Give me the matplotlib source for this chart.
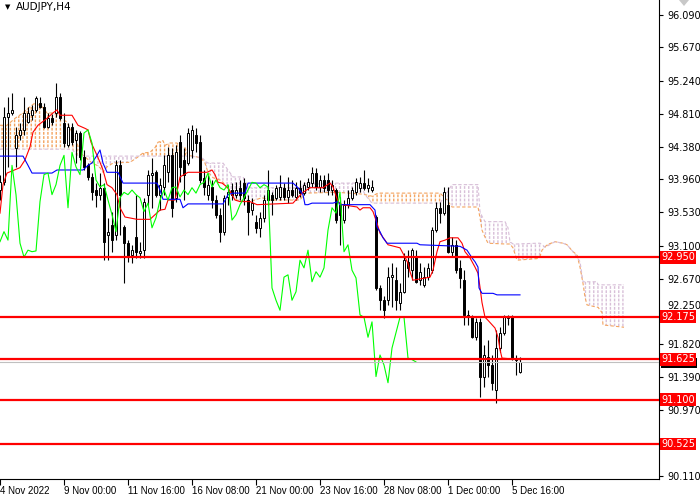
import numpy as np
import matplotlib
matplotlib.use("Agg")
import matplotlib.pyplot as plt
from matplotlib.patches import Polygon, Rectangle
from matplotlib.transforms import ScaledTranslation

plt.rcParams['font.family'] = ['DejaVu Sans']
plt.rcParams['hatch.linewidth'] = 1.0

# AUDJPY H4 candles (bar 0 = 4 Nov 2022)
open_ = [93.82, 93.92, 94.77, 94.82, 94.37, 94.53, 94.60, 94.70, 94.79, 94.86,
         94.95, 94.90, 94.64, 94.75, 94.82, 95.03, 94.69, 94.40, 94.64, 94.47,
         94.56, 94.25, 94.14, 93.99, 93.82, 93.76, 93.85, 93.24, 93.37, 93.24,
         94.14, 93.34, 93.13, 92.98, 93.21, 93.00, 93.04, 93.76, 94.02, 94.05,
         93.76, 93.86, 94.05, 94.27, 93.72, 94.44, 94.21, 94.17, 94.34, 94.53,
         94.44, 93.98, 93.76, 93.86, 93.69, 93.50, 93.28, 93.73, 93.82, 93.76,
         93.85, 93.91, 93.69, 93.56, 93.41, 93.33, 93.46, 93.69, 93.76, 93.72,
         93.73, 93.85, 93.73, 93.82, 93.73, 93.85, 93.78, 93.86, 93.91, 94.04,
         93.86, 93.95, 93.95, 93.82, 93.82, 93.63, 93.43, 93.63, 93.72, 93.79,
         93.85, 93.91, 93.85, 93.82, 93.47, 92.55, 92.39, 92.39, 92.69, 92.65,
         92.36, 92.50, 92.89, 92.78, 92.95, 92.65, 92.59, 92.69, 92.78, 93.30,
         93.59, 93.52, 93.63, 93.02, 93.11, 92.81, 92.65, 92.20, 92.17, 91.91,
         92.11, 91.40, 91.65, 91.55, 91.23, 91.77, 91.97, 92.16, 92.17, 91.64,
         91.46]
high = [94.02, 94.90, 95.03, 95.08, 94.64, 94.69, 95.03, 94.90, 94.92, 95.04,
        95.03, 94.95, 94.82, 94.81, 95.21, 95.08, 94.82, 94.69, 94.69, 94.60,
        94.59, 94.34, 94.17, 94.04, 93.91, 94.04, 93.91, 93.46, 93.54, 94.21,
        94.21, 93.37, 93.17, 93.11, 93.76, 93.15, 93.72, 94.08, 94.24, 94.08,
        93.98, 94.27, 94.38, 94.37, 94.40, 94.53, 94.37, 94.62, 94.66, 94.62,
        94.53, 94.08, 94.02, 93.95, 93.76, 93.59, 93.76, 93.89, 93.91, 93.92,
        93.95, 93.98, 93.76, 93.72, 93.50, 93.54, 93.76, 94.08, 93.79, 93.89,
        94.02, 93.91, 93.99, 93.95, 93.92, 93.95, 93.92, 93.98, 94.12, 94.11,
        94.02, 94.02, 94.04, 93.95, 93.85, 93.73, 93.69, 93.82, 93.86, 93.98,
        93.99, 94.08, 93.98, 93.95, 93.50, 92.59, 92.45, 92.82, 92.87, 92.82,
        92.61, 93.00, 93.04, 93.07, 93.04, 92.87, 92.82, 92.87, 93.34, 93.67,
        93.67, 93.86, 93.86, 93.21, 93.17, 92.91, 92.78, 92.26, 92.20, 92.16,
        92.16, 91.81, 91.88, 91.68, 92.00, 92.04, 92.20, 92.20, 92.20, 91.68,
        91.65]
low = [93.69, 93.89, 94.12, 94.79, 94.12, 94.47, 94.53, 94.69, 94.73, 94.83,
       94.88, 94.62, 94.62, 94.66, 94.77, 94.73, 94.38, 94.38, 94.40, 94.17,
       94.21, 94.08, 93.95, 93.69, 93.60, 93.69, 92.91, 92.91, 93.02, 93.17,
       93.24, 92.61, 92.89, 92.87, 92.94, 92.94, 92.94, 93.63, 93.59, 93.73,
       93.56, 93.76, 93.92, 93.47, 93.67, 93.92, 93.69, 94.14, 94.24, 94.31,
       93.91, 93.76, 93.69, 93.59, 93.46, 93.15, 93.24, 93.63, 93.69, 93.72,
       93.69, 93.63, 93.24, 93.50, 93.26, 93.21, 93.41, 93.63, 93.50, 93.69,
       93.69, 93.69, 93.65, 93.73, 93.69, 93.73, 93.76, 93.82, 93.86, 93.82,
       93.79, 93.79, 93.76, 93.76, 93.39, 93.11, 93.39, 93.59, 93.69, 93.76,
       93.79, 93.82, 93.79, 93.79, 92.52, 92.26, 92.16, 92.33, 92.30, 92.26,
       92.26, 92.48, 92.69, 92.65, 92.61, 92.59, 92.56, 92.65, 92.74, 93.28,
       93.39, 93.50, 93.00, 92.95, 92.74, 92.55, 92.07, 92.07, 91.90, 91.88,
       91.14, 91.27, 91.40, 91.23, 91.06, 91.72, 91.94, 92.07, 91.62, 91.42,
       91.45]
close = [93.92, 94.77, 94.82, 94.86, 94.53, 94.60, 94.82, 94.82, 94.86, 95.01,
         94.90, 94.64, 94.75, 94.70, 95.03, 94.75, 94.43, 94.64, 94.44, 94.56,
         94.25, 94.12, 93.99, 93.79, 93.76, 93.85, 93.15, 93.28, 93.17, 94.14,
         93.76, 93.13, 92.95, 93.04, 93.02, 93.03, 93.67, 94.02, 94.04, 93.76,
         93.89, 94.14, 94.27, 93.59, 94.31, 94.12, 94.02, 94.56, 94.60, 94.43,
         93.95, 93.86, 93.89, 93.69, 93.50, 93.28, 93.72, 93.79, 93.76, 93.82,
         93.76, 93.72, 93.54, 93.65, 93.33, 93.46, 93.69, 93.82, 93.69, 93.85,
         93.86, 93.73, 93.82, 93.76, 93.85, 93.78, 93.89, 93.92, 94.04, 93.86,
         93.95, 93.85, 93.82, 93.89, 93.43, 93.50, 93.63, 93.72, 93.82, 93.92,
         93.91, 93.85, 93.89, 93.86, 92.55, 92.39, 92.26, 92.69, 92.72, 92.39,
         92.50, 92.91, 92.81, 93.04, 92.63, 92.76, 92.69, 92.81, 93.30, 93.59,
         93.52, 93.79, 93.02, 93.11, 92.78, 92.68, 92.20, 92.17, 91.91, 92.11,
         91.40, 91.68, 91.55, 91.32, 91.77, 91.97, 92.17, 92.17, 91.64, 91.62,
         91.59]

# Ichimoku lines, vertices (x in bars)
tenkan_x = [0, 0.75, 1.75, 5, 6.25, 7.5, 8.25, 9.5, 11.75, 13.25,
            14.25, 15, 18, 19.5, 21.25, 22, 22.75, 24.25, 25, 25.75,
            26.75, 28, 29.25, 30, 31.25, 34.25, 37.5, 38.75, 40, 41.25,
            42, 43.75, 44.5, 45, 47, 51.75, 53, 53.75, 54.5, 55.5,
            57, 58, 58.75, 60, 62.5, 64.25, 73.25, 75.5, 77.5, 80.75,
            82.5, 83.25, 84.5, 85.5, 89.25, 90, 90.75, 92.5, 93.25, 94.25,
            95, 96.25, 97, 100, 101.25, 102, 102.5, 103.25, 107.5, 108.25,
            109.25, 110, 111.25, 112.5, 114.5, 115.5, 116.25, 117.5, 118.75, 119.5,
            120, 120.5, 121.25, 122, 123.75, 124.5, 125, 125.5, 130]
tenkan_y = [93.52, 93.89, 94.04, 94.11, 94.21, 94.38, 94.57, 94.66, 94.75, 94.82,
            94.86, 94.79, 94.79, 94.66, 94.62, 94.60, 94.44, 94.27, 94.18, 94.08,
            93.89, 93.85, 93.76, 93.59, 93.47, 93.44, 93.44, 93.50, 93.56, 93.57,
            93.69, 93.69, 93.86, 93.99, 94.05, 94.05, 94.08, 94.02, 93.92, 93.91,
            93.85, 93.76, 93.69, 93.67, 93.67, 93.63, 93.65, 93.78, 93.85, 93.85,
            93.91, 93.86, 93.67, 93.63, 93.60, 93.56, 93.59, 93.59, 93.54, 93.39,
            93.26, 93.17, 93.11, 93.07, 92.95, 92.87, 92.76, 92.65, 92.69, 92.78,
            93.02, 93.15, 93.17, 93.20, 93.20, 93.13, 93.02, 92.94, 92.82, 92.74,
            92.56, 92.36, 92.17, 92.13, 92.03, 91.91, 91.75, 91.64, 91.62]

kijun_x = [0, 5.75, 7, 8, 13, 14.25, 20.75, 22, 23, 24.25,
           25, 25.75, 26.75, 29.5, 30.75, 39.25, 40, 40.75, 45, 45.75,
           47, 55.75, 57, 58.25, 61.25, 62, 73.25, 74.5, 75.75, 76.25,
           77, 78, 83.25, 84.5, 85, 92.5, 93.75, 94.25, 95, 95.75,
           96.75, 104.25, 105, 115, 116.75, 118, 118.75, 119.5, 119.75, 120.5,
           123.25, 124.25, 130]
kijun_y = [94.26, 94.26, 94.14, 94.04, 94.04, 94.08, 94.08, 94.14, 94.17, 94.27,
           94.34, 94.17, 94.05, 94.05, 93.91, 93.91, 93.82, 93.70, 93.70, 93.59,
           93.64, 93.64, 93.76, 93.78, 93.78, 93.91, 93.91, 93.85, 93.76, 93.63,
           93.63, 93.65, 93.65, 93.67, 93.63, 93.63, 93.56, 93.34, 93.28, 93.20,
           93.13, 93.13, 93.11, 93.09, 93.04, 92.94, 92.89, 92.82, 92.55, 92.48,
           92.48, 92.46, 92.46]

span_x = [0, 1.75, 3.75, 5.75, 7, 8.75, 10.5, 11.75, 13.25, 14.5,
          16.75, 18, 19.25, 20, 20.75, 21.25, 23, 24.25, 25, 25.75,
          26.75, 28.25, 32.5, 34.25, 35.75, 37.5, 38.75, 39.5, 40.75, 41.25,
          42.5, 44.25, 45, 46.25, 47, 49.25, 50.5, 51.25, 52, 53.25,
          55, 55.75, 57, 58.25, 59.25, 60.75, 61.75, 62.5, 65.5, 67.5,
          75, 76.25, 84.25, 90, 91.25, 93, 94.5, 110, 111.75, 113,
          119.5, 120, 120.5, 121.25, 122, 126.25, 127, 127.5, 128.25, 129.25,
          134.25, 135, 135.5, 136.25, 136.75, 138.75, 140.75, 141.75, 143.25, 144.25,
          145, 145.75, 146.25, 146.75, 149.25, 149.5, 150.5, 150.75, 156]
span_a = [94.66, 94.66, 94.75, 94.82, 94.88, 94.95, 94.90, 94.82, 94.82, 94.79,
          94.70, 94.57, 94.43, 94.31, 94.27, 94.25, 94.17, 94.14, 94.11, 94.05,
          94.12, 94.17, 94.18, 94.24, 94.30, 94.31, 94.37, 94.44, 94.46, 94.40,
          94.43, 94.43, 94.38, 94.37, 94.27, 94.25, 94.22, 94.17, 94.05, 93.98,
          93.95, 93.92, 93.83, 93.73, 93.69, 93.68, 93.68, 93.67, 93.72, 93.69,
          93.69, 93.78, 93.79, 93.77, 93.76, 93.74, 93.78, 93.78, 93.69, 93.60,
          93.60, 93.46, 93.30, 93.21, 93.13, 93.12, 93.12, 93.12, 93.07, 92.91,
          92.93, 92.96, 93.04, 93.08, 93.11, 93.15, 93.13, 93.11, 93.02, 92.98,
          92.82, 92.61, 92.43, 92.33, 92.30, 92.30, 92.23, 92.07, 92.04]
span_b = [94.35, 94.35, 94.35, 94.35, 94.35, 94.35, 94.35, 94.35, 94.35, 94.35,
          94.35, 94.35, 94.27, 94.27, 94.26, 94.26, 94.26, 94.26, 94.26, 94.26,
          94.26, 94.26, 94.26, 94.26, 94.26, 94.26, 94.26, 94.26, 94.26, 94.26,
          94.26, 94.26, 94.26, 94.26, 94.26, 94.25, 94.24, 94.20, 94.17, 94.17,
          94.17, 94.17, 94.08, 93.99, 93.99, 93.99, 93.89, 93.85, 93.85, 93.85,
          93.85, 93.91, 93.91, 93.91, 93.76, 93.65, 93.65, 93.65, 93.79, 93.89,
          93.89, 93.54, 93.48, 93.41, 93.41, 93.41, 93.33, 93.15, 93.12, 93.12,
          93.13, 93.13, 93.11, 93.08, 93.09, 93.15, 93.13, 93.11, 93.02, 92.95,
          92.89, 92.63, 92.63, 92.63, 92.63, 92.59, 92.59, 92.59, 92.59]

levels = [92.950, 92.175, 91.625, 91.100, 90.525]
price_ticks = [96.090, 95.670, 95.240, 94.810, 94.380, 93.960, 93.530, 93.100,
               92.670, 92.250, 91.820, 91.390, 90.970, 90.540, 90.110]
# 90.540 sits under the 90.525 box on the reference; 92.250 is drawn apart
price_labels = ['96.090', '95.670', '95.240', '94.810', '94.380', '93.960',
                '93.530', '93.100', '92.670', '', '91.820', '91.390',
                '90.970', '', '90.110']
time_ticks = [0, 16, 32, 48, 64, 80, 96, 112, 128]
time_labels = ['4 Nov 2022', '9 Nov 00:00', '11 Nov 16:00', '16 Nov 08:00',
               '21 Nov 00:00', '23 Nov 16:00', '28 Nov 08:00', '1 Dec 00:00',
               '5 Dec 16:00']

o = np.array(open_)
h = np.array(high)
l = np.array(low)
c = np.array(close)
bars = np.arange(len(c))
sx = np.array(span_x)
sa = np.array(span_a)
sb = np.array(span_b)

fig = plt.figure(figsize=(7, 5), dpi=100)
ax = fig.add_axes([0, 21 / 500, 659 / 700, 479 / 500])

# cloud: dotted vertical hatch, sandy when A above B, thistle otherwise
ax.fill_between(sx, sa, sb, where=sa >= sb, interpolate=True, facecolor='none',
                edgecolor='#F4A460', hatch='||||', linewidth=0, zorder=1)
ax.fill_between(sx, sa, sb, where=sb > sa, interpolate=True, facecolor='none',
                edgecolor='#D8BFD8', hatch='||||', linewidth=0, zorder=1)
ax.fill_between(sx, sa, sb, facecolor='none', edgecolor='white',
                hatch='----', linewidth=0, zorder=1.1)
ax.plot(sx, sa, color='#F4A460', lw=0.8, ls=(0, (3, 2)), zorder=1.2)
ax.plot(sx, sb, color='#D8BFD8', lw=0.8, ls=(0, (3, 2)), zorder=1.2)

# candles
ax.vlines(bars, l, h, color='black', lw=0.8, zorder=2)
body_lo = np.minimum(o, c)
body_h = np.maximum(np.abs(c - o), 0.004)
fills = ['white' if cc >= oo else 'black' for oo, cc in zip(o, c)]
ax.bar(bars, body_h, bottom=body_lo, width=0.6, color=fills,
       edgecolor='black', linewidth=0.7, zorder=2.1)

# tenkan, kijun, chikou
ax.plot(tenkan_x, tenkan_y, color='red', lw=0.8, zorder=3)
ax.plot(kijun_x, kijun_y, color='blue', lw=0.8, zorder=3)
ax.plot(bars[26:] - 26, c[26:], color='#00FF00', lw=0.8, zorder=3)

# bid line and horizontal levels
ax.axhline(c[-1], color='#C0C0C0', lw=0.8, zorder=3.5)
for p in levels:
    ax.axhline(p, color='red', lw=1.6, zorder=4)

ax.set_xlim(0, 164.75)
ax.set_ylim(90.0715, 96.285)

ax.yaxis.tick_right()
ax.set_yticks(price_ticks)
ax.set_yticklabels(price_labels)
ax.set_xticks(time_ticks)
ax.set_xticklabels(time_labels, ha='left')
for lbl in ax.get_xticklabels():
    lbl.set_fontfamily(['Liberation Sans'])
ax.tick_params(axis='y', length=3, width=0.8, labelsize=7, pad=3, colors='black')
ax.tick_params(axis='x', length=4, width=0.8, labelsize=7, pad=1, colors='black')
for s in ['left', 'top']:
    ax.spines[s].set_visible(False)
for s in ['right', 'bottom']:
    ax.spines[s].set_linewidth(0.8)
    ax.spines[s].set_color('black')

ytr = ax.get_yaxis_transform()
# 92.250 lifted a little so it clears the 92.175 box
ax.text(1.0, 92.25, '92.250', fontsize=7, va='center', ha='left', clip_on=False,
        transform=ytr + ScaledTranslation(6 / 72, 0.05, fig.dpi_scale_trans))

# price labels on the scale: hidden bid box first, then the level boxes
ax.add_patch(Rectangle((1.003, c[-1] - 0.075), 0.055, 0.13, transform=ytr,
                       facecolor='black', edgecolor='none', clip_on=False, zorder=9))
for p in levels:
    ax.text(1.003, p, '%.3f' % p, transform=ytr, color='white', fontsize=7,
            va='center', ha='left', clip_on=False, zorder=10,
            bbox=dict(boxstyle='square,pad=0.15', fc='red', ec='none'))

fig.text(5 / 700, 1 - 7 / 500, '\u25bc', fontsize=5, va='center', ha='left')
fig.text(16 / 700, 1 - 7 / 500, 'AUDJPY,H4', fontsize=7.5, va='center', ha='left')
fig.add_artist(Polygon([(679 / 700, 1), (689 / 700, 1), (684 / 700, 1 - 6 / 500)],
                       closed=True, transform=fig.transFigure,
                       facecolor='#C8C8C8', edgecolor='none'))

fig.savefig('out.png', dpi=100)
